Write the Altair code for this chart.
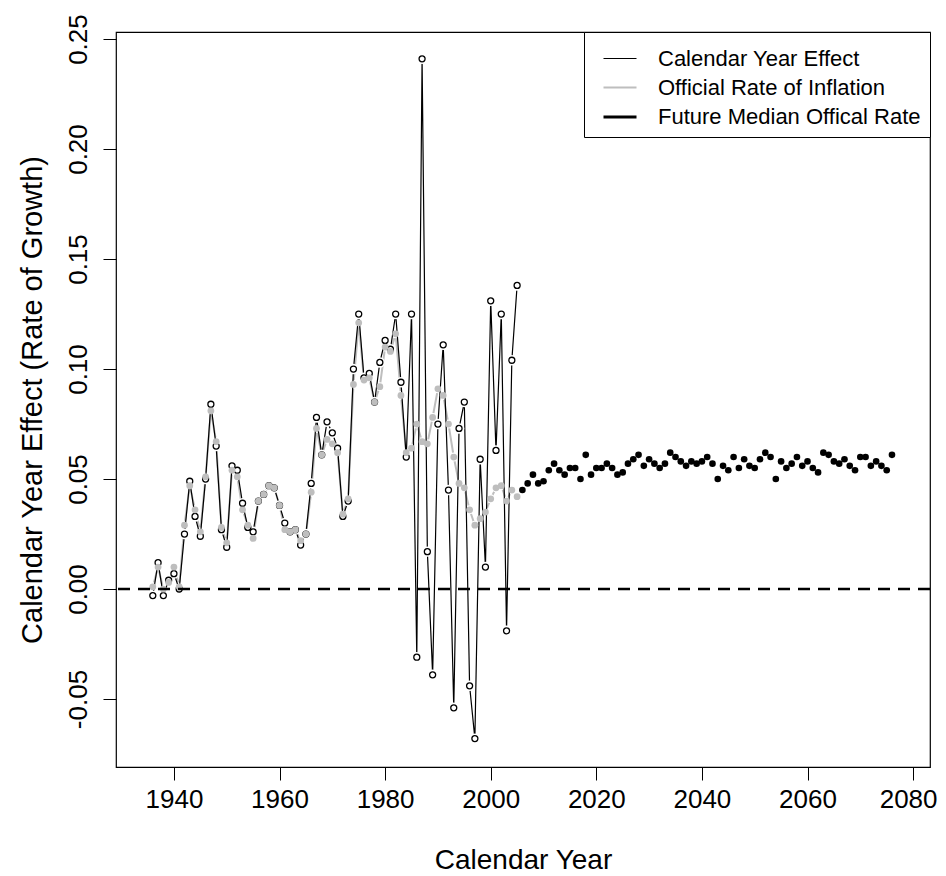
import altair as alt
import pandas as pd

# ---------------- data ----------------
years_hist = list(range(1936, 2006))
calendar_effect = [
    -0.003, 0.012, -0.003, 0.004, 0.007, 0.000, 0.025, 0.049, 0.033, 0.024,
    0.050, 0.084, 0.065, 0.027, 0.019, 0.056, 0.054, 0.039, 0.028, 0.026,
    0.040, 0.043, 0.047, 0.046, 0.038, 0.030, 0.026, 0.027, 0.020, 0.025,
    0.048, 0.078, 0.061, 0.076, 0.071, 0.064, 0.033, 0.040, 0.100, 0.125,
    0.096, 0.098, 0.085, 0.103, 0.113, 0.109, 0.125, 0.094, 0.060, 0.125,
    -0.031, 0.241, 0.017, -0.039, 0.075, 0.111, 0.045, -0.054, 0.073, 0.085,
    -0.044, -0.068, 0.059, 0.010, 0.131, 0.063, 0.125, -0.019, 0.104, 0.138,
]
official_rate = [
    0.001, 0.010, 0.000, 0.003, 0.010, 0.001, 0.029, 0.047, 0.036, 0.026,
    0.051, 0.081, 0.067, 0.028, 0.021, 0.054, 0.051, 0.036, 0.029, 0.023,
    0.040, 0.043, 0.047, 0.046, 0.038, 0.027, 0.026, 0.027, 0.022, 0.025,
    0.044, 0.073, 0.061, 0.068, 0.066, 0.062, 0.034, 0.041, 0.093, 0.121,
    0.095, 0.096, 0.085, 0.092, 0.110, 0.108, 0.116, 0.088, 0.062, 0.064,
    0.075, 0.067, 0.066, 0.078, 0.091, 0.088, 0.075, 0.060, 0.048, 0.046,
    0.036, 0.029, 0.032, 0.035, 0.041, 0.046, 0.047, 0.040, 0.045, 0.042,
]
years_future = list(range(2006, 2077))
future_median = [
    0.045, 0.048, 0.052, 0.048, 0.049, 0.054, 0.057, 0.054, 0.052, 0.055,
    0.055, 0.050, 0.061, 0.052, 0.055, 0.055, 0.057, 0.055, 0.052, 0.053,
    0.057, 0.059, 0.061, 0.056, 0.059, 0.057, 0.055, 0.057, 0.062, 0.060,
    0.058, 0.056, 0.058, 0.057, 0.058, 0.060, 0.057, 0.050, 0.056, 0.054,
    0.060, 0.055, 0.059, 0.056, 0.055, 0.059, 0.062, 0.060, 0.050, 0.058,
    0.055, 0.057, 0.060, 0.056, 0.058, 0.055, 0.053, 0.062, 0.061, 0.058,
    0.057, 0.059, 0.056, 0.054, 0.060, 0.060, 0.056, 0.058, 0.056, 0.054,
    0.061,
]
series_names = ["Calendar Year Effect", "Official Rate of Inflation",
                "Future Median Offical Rate"]
x_ticks = [1940, 1960, 1980, 2000, 2020, 2040, 2060, 2080]
y_ticks = [-0.05, 0.0, 0.05, 0.10, 0.15, 0.20, 0.25]

cye = pd.DataFrame({"year": years_hist, "value": calendar_effect,
                    "series": series_names[0]})
off = pd.DataFrame({"year": years_hist, "value": official_rate,
                    "series": series_names[1]})
fut = pd.DataFrame({"year": years_future, "value": future_median,
                    "series": series_names[2]})

FONT = "Liberation Sans"
GRAY = "#BEBEBE"
X_DOMAIN = [1929.03, 2083.2]
Y_DOMAIN = [-0.0809, 0.2532]

x = alt.X("year:Q",
          scale=alt.Scale(domain=X_DOMAIN, nice=False, zero=False),
          axis=alt.Axis(values=x_ticks, format="d", title="Calendar Year",
                        grid=False, domain=False, tickSize=13, tickColor="black",
                        labelFontSize=26, labelPadding=6, labelColor="black",
                        labelOffset={"condition": {"test": "datum.value === 2080", "value": -5},
                                     "value": 0},
                        titleFontSize=28, titlePadding=34, titleColor="black",
                        titleFontWeight="normal", labelFlush=False))
y = alt.Y("value:Q",
          scale=alt.Scale(domain=Y_DOMAIN, nice=False, zero=False),
          axis=alt.Axis(values=y_ticks, title="Calendar Year Effect (Rate of Growth)",
                        labelExpr="datum.value < 0 ? '-' + format(-datum.value, '.2f') : format(datum.value, '.2f')",
                        grid=False, domain=False, tickSize=13, tickColor="black",
                        labelAngle=270, labelAlign="center", labelBaseline="bottom",
                        labelFontSize=26, labelPadding=12, labelColor="black",
                        titleFontSize=29, titlePadding=18, titleColor="black",
                        titleFontWeight="normal", labelFlush=False))

legend = alt.Legend(
    title=None, orient="top-right", offset=0,
    symbolType="stroke", symbolSize=1089,
    labelFontSize=22, labelFont=FONT, labelColor="black",
    labelExpr="datum.label + '\u00a0\u00a0'",
    labelLimit=400, labelOffset=20, symbolOffset=9,
    strokeColor="black", fillColor="white", padding=9,
    rowPadding=-8, cornerRadius=0,
)
color = alt.Color("series:N",
                  scale=alt.Scale(domain=series_names, range=["black", GRAY, "black"]),
                  legend=legend)
width = alt.StrokeWidth("series:N",
                        scale=alt.Scale(type="point", domain=series_names, range=[1.2, 2.8]),
                        legend=legend)

gray_line = alt.Chart(off).mark_line().encode(x=x, y=y, color=color, strokeWidth=width)
gray_halo = alt.Chart(off).mark_point(filled=True, color="white", opacity=1,
                                      size=80).encode(x=x, y=y)
black_line = alt.Chart(cye).mark_line().encode(x=x, y=y, color=color, strokeWidth=width)
black_halo = alt.Chart(cye).mark_point(filled=True, color="white", opacity=1,
                                       size=110).encode(x=x, y=y)
black_pts = alt.Chart(cye).mark_point(shape="circle", filled=False, color="black",
                                      strokeWidth=1.3, opacity=1, size=36).encode(x=x, y=y)
gray_pts = alt.Chart(off).mark_point(shape="circle", filled=True, color=GRAY,
                                     opacity=1, size=46).encode(x=x, y=y)
fut_pts = alt.Chart(fut).mark_point(shape="circle", filled=True, color="black",
                                    opacity=1, size=44).encode(x=x, y=y)
zero = alt.Chart(pd.DataFrame({"v": [0.0]})).mark_rule(
    color="black", strokeWidth=2.5, strokeDash=[12, 8]).encode(
    y=alt.Y("v:Q", scale=alt.Scale(domain=Y_DOMAIN, nice=False, zero=False)))

chart = alt.layer(gray_line, gray_halo, black_line, black_halo, black_pts,
                  gray_pts, fut_pts, zero).properties(
    width=814, height=735,
    padding={"left": 108, "top": 24, "right": 8, "bottom": 109},
    autosize="none",
).configure(
    font=FONT, background="white",
    view=alt.ViewConfig(stroke="black", strokeWidth=1.2),
)

chart.save("out.html", embed_options={"renderer": "svg", "actions": False})
